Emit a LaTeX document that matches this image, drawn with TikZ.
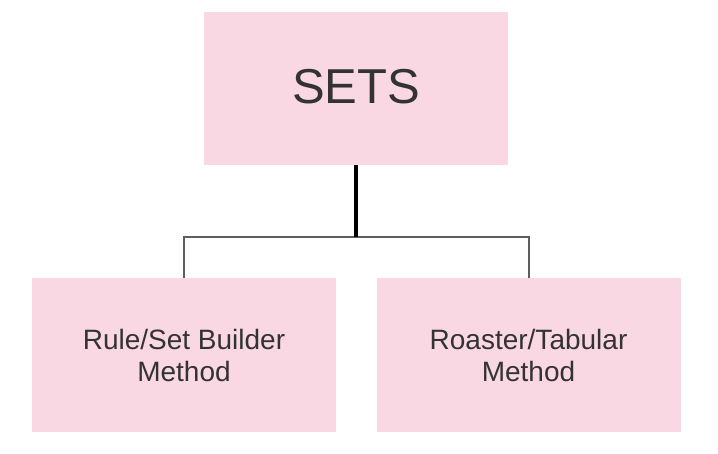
\documentclass[tikz,border=0pt]{standalone}
\usepackage{fontspec}
\setmainfont{Liberation Sans}
\definecolor{boxpink}{HTML}{F9D8E3}
\definecolor{txtgray}{HTML}{333333}
\definecolor{linegray}{HTML}{5E5E5E}
\tikzset{
  pinkbox/.style={fill=boxpink, draw=none, text=txtgray, align=center, inner sep=0pt},
  bottomtext/.style={font=\fontsize{28}{32}\selectfont},
  branch/.style={draw=linegray, line width=2pt},
  trunk/.style={draw=black, line width=4pt}
}
\begin{document}
\begin{tikzpicture}[x=1pt,y=-1pt]
\useasboundingbox (0,0) rectangle (718,454);
\node[pinkbox, minimum width=304pt, minimum height=153pt, text depth=4pt,
      font=\fontsize{49}{52}\selectfont] (sets) at (356,88.5) {SETS};
\node[pinkbox, bottomtext, minimum width=304pt, minimum height=154pt] (rule) at (184,355)
      {Rule/Set Builder\\Method};
\node[pinkbox, bottomtext, minimum width=304pt, minimum height=154pt] (roaster) at (528.5,355)
      {Roaster/Tabular\\Method};
\coordinate (mid) at (356,237);
\draw[branch] (rule.north) |- (mid) -| (roaster.north);
\draw[trunk] (sets.south) -- (mid);
\end{tikzpicture}
\end{document}
